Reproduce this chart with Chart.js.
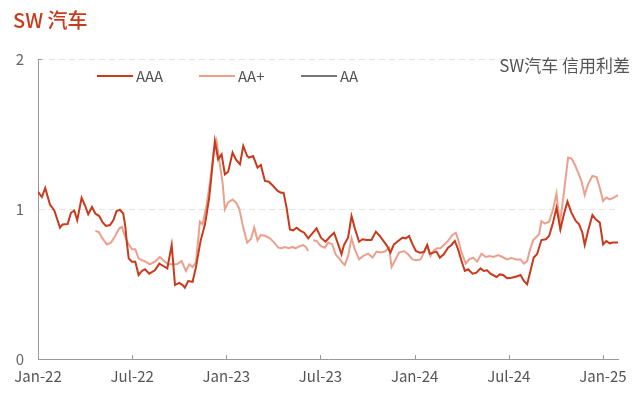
<!DOCTYPE html>
<html>
<head>
<meta charset="utf-8">
<script src="https://cdn.jsdelivr.net/npm/chart.js@4"></script>
<style>
  body { margin: 0; background: #fff; }
  canvas { display: block; }
</style>
</head>
<body>
<canvas id="myChart" width="640" height="395"></canvas>
<script>
// x values are months since Jan 2022
const xTickMonths = [0, 6, 12, 18, 24, 30, 36];
const xTickLabels = ["Jan-22", "Jul-22", "Jan-23", "Jul-23", "Jan-24", "Jul-24", "Jan-25"];
const yTicks = [0, 1, 2];

const aaaMonth = [0.00, 0.25, 0.46, 0.76, 1.04, 1.40, 1.57, 1.89, 2.10, 2.31, 2.50, 2.78, 3.01, 3.20, 3.44, 3.65, 3.90, 4.12, 4.33, 4.59,
  4.80, 5.01, 5.22, 5.43, 5.56, 5.65, 5.78, 5.99, 6.20, 6.41, 6.62, 6.82, 7.09, 7.45, 7.73, 7.98, 8.24, 8.52, 8.73, 9.00,
  9.22, 9.36, 9.57, 9.85, 10.06, 10.36, 10.64, 10.91, 11.27, 11.48, 11.70, 11.91, 12.12, 12.40, 12.61, 12.87, 13.08, 13.33, 13.44, 13.71,
  13.99, 14.20, 14.46, 14.71, 14.99, 15.27, 15.48, 15.65, 15.84, 16.05, 16.26, 16.48, 16.69, 16.96, 17.22, 17.43, 17.75, 18.03, 18.32, 18.60,
  18.87, 19.13, 19.34, 19.50, 19.76, 19.98, 20.19, 20.46, 20.68, 20.94, 21.25, 21.53, 21.78, 21.99, 22.25, 22.46, 22.68, 22.95, 23.23, 23.44,
  23.65, 23.87, 24.08, 24.33, 24.59, 24.80, 24.97, 25.18, 25.39, 25.61, 25.86, 26.13, 26.35, 26.56, 26.77, 26.99, 27.20, 27.41, 27.69, 27.94,
  28.20, 28.41, 28.62, 28.83, 29.22, 29.43, 29.64, 29.89, 30.17, 30.49, 30.75, 30.96, 31.17, 31.38, 31.59, 31.80, 32.08, 32.36, 32.57, 32.82,
  33.04, 33.29, 33.50, 33.74, 33.99, 34.27, 34.48, 34.69, 34.84, 35.05, 35.33, 35.54, 35.80, 36.01, 36.22, 36.43, 36.64, 36.96];
const aaaSpread = [1.115, 1.08, 1.14, 1.03, 0.99, 0.875, 0.897, 0.90, 0.975, 0.99, 0.925, 1.075, 1.02, 0.965, 1.013, 0.97, 0.953, 0.91, 0.887, 0.893,
  0.925, 0.987, 0.995, 0.97, 0.887, 0.787, 0.671, 0.649, 0.649, 0.56, 0.587, 0.598, 0.569, 0.591, 0.636, 0.62, 0.604, 0.76, 0.493, 0.507,
  0.493, 0.476, 0.52, 0.515, 0.609, 0.787, 0.898, 1.075, 1.453, 1.331, 1.364, 1.231, 1.249, 1.376, 1.331, 1.298, 1.42, 1.353, 1.342, 1.353,
  1.276, 1.293, 1.187, 1.182, 1.153, 1.12, 1.109, 1.109, 1.009, 0.864, 0.858, 0.875, 0.858, 0.842, 0.804, 0.831, 0.871, 0.809, 0.782, 0.815,
  0.842, 0.764, 0.698, 0.76, 0.809, 0.953, 0.871, 0.782, 0.798, 0.793, 0.793, 0.849, 0.82, 0.791, 0.753, 0.709, 0.764, 0.787, 0.809, 0.804,
  0.82, 0.764, 0.72, 0.709, 0.713, 0.76, 0.702, 0.709, 0.716, 0.676, 0.698, 0.742, 0.76, 0.787, 0.731, 0.653, 0.587, 0.598, 0.569, 0.576,
  0.604, 0.587, 0.591, 0.569, 0.547, 0.564, 0.56, 0.538, 0.542, 0.55, 0.56, 0.52, 0.498, 0.587, 0.676, 0.698, 0.793, 0.798, 0.82, 0.909,
  1.009, 0.864, 0.96, 1.049, 0.976, 0.92, 0.898, 0.842, 0.76, 0.853, 0.96, 0.931, 0.909, 0.764, 0.787, 0.771, 0.776, 0.776];

// null marks the break in the AA+ series
const aapMonth = [3.65, 3.87, 4.08, 4.38, 4.65, 4.92, 5.18, 5.35, 5.50, 5.71, 5.99, 6.20, 6.41, 6.62, 6.83, 7.13, 7.45, 7.77, 8.03, 8.30,
  8.62, 8.87, 9.15, 9.43, 9.64, 9.85, 10.06, 10.32, 10.49, 10.75, 11.00, 11.21, 11.38, 11.59, 11.76, 11.91, 12.12, 12.40, 12.61, 12.82,
  13.08, 13.33, 13.57, 13.78, 13.99, 14.20, 14.50, 14.78, 15.05, 15.31, 15.52, 15.73, 15.99, 16.20, 16.41, 16.69, 16.90, 17.07, 17.22, 17.38,
  17.54, 17.75, 18.03, 18.28, 18.49, 18.75, 18.96, 19.24, 19.45, 19.55, 19.76, 19.98, 20.19, 20.46, 20.72, 21.04, 21.32, 21.57, 21.83, 22.10,
  22.38, 22.53, 22.74, 23.01, 23.31, 23.59, 23.87, 24.12, 24.38, 24.59, 24.80, 25.01, 25.22, 25.43, 25.65, 25.86, 26.13, 26.41, 26.62, 26.77,
  26.99, 27.26, 27.47, 27.73, 27.98, 28.26, 28.54, 28.79, 29.04, 29.32, 29.60, 29.89, 30.17, 30.49, 30.75, 30.96, 31.17, 31.34, 31.55, 31.76,
  31.93, 32.08, 32.29, 32.57, 32.82, 33.04, 33.25, 33.50, 33.78, 33.99, 34.20, 34.42, 34.63, 34.84, 35.05, 35.33, 35.59, 35.80, 36.01, 36.22,
  36.43, 36.69, 36.96];
const aapSpread = [0.853, 0.847, 0.809, 0.764, 0.776, 0.82, 0.871, 0.88, 0.831, 0.776, 0.731, 0.731, 0.671, 0.658, 0.651, 0.631, 0.649, 0.68, 0.653, 0.631,
  0.631, 0.633, 0.653, 0.587, 0.631, 0.613, 0.642, 0.915, 0.898, 1.031, 1.209, 1.387, 1.453, 1.298, 1.176, 0.998, 1.044, 1.064, 1.044, 1.004,
  0.876, 0.776, 0.80, 0.876, 0.791, 0.827, 0.82, 0.804, 0.776, 0.742, 0.738, 0.747, 0.738, 0.747, 0.738, 0.753, 0.76, 0.747, 0.72, null,
  0.791, 0.787, 0.753, 0.742, 0.776, 0.765, 0.698, 0.664, 0.636, 0.627, 0.687, 0.804, 0.731, 0.664, 0.687, 0.702, 0.676, 0.716, 0.71, 0.716,
  0.742, 0.613, 0.653, 0.709, 0.72, 0.698, 0.664, 0.658, 0.664, 0.709, 0.76, 0.687, 0.724, 0.738, 0.738, 0.76, 0.787, 0.827, 0.842, 0.798,
  0.709, 0.636, 0.664, 0.676, 0.649, 0.702, 0.68, 0.687, 0.68, 0.693, 0.68, 0.664, 0.673, 0.664, 0.664, 0.636, 0.653, 0.724, 0.791, 0.813,
  0.831, 0.92, 0.902, 0.915, 0.998, 1.102, 0.898, 1.098, 1.342, 1.338, 1.298, 1.242, 1.187, 1.093, 1.164, 1.22, 1.213, 1.142, 1.053, 1.076,
  1.064, 1.076, 1.093];

const aaMonth = [];
const aaSpread = [];

const toPoints = (xs, ys) => xs.map((x, i) => ({ x: x, y: ys[i] }));

const FONT = "'Noto Sans CJK SC', 'Noto Sans', sans-serif";

// title, subtitle, legend inside the plot and inward tick marks
const decorations = {
  id: "decorations",
  afterDraw(chart) {
    const ctx = chart.ctx;
    const area = chart.chartArea;
    const xs = chart.scales.x;
    ctx.save();

    ctx.fillStyle = "#c9391b";
    ctx.font = "500 20px " + FONT;
    ctx.textBaseline = "middle";
    ctx.textAlign = "left";
    ctx.fillText("SW 汽车", 13, 20);

    ctx.fillStyle = "#555";
    ctx.font = "17px " + FONT;
    ctx.textAlign = "right";
    ctx.fillText("SW汽车 信用利差", 630, 66);

    // legend
    ctx.font = "15px " + FONT;
    ctx.textAlign = "left";
    let lx = area.left + 59;
    const ly = area.top + 17;
    chart.data.datasets.forEach(ds => {
      ctx.strokeStyle = ds.borderColor;
      ctx.lineWidth = 2;
      ctx.beginPath();
      ctx.moveTo(lx, ly);
      ctx.lineTo(lx + 36, ly);
      ctx.stroke();
      ctx.fillStyle = "#555";
      ctx.fillText(ds.label, lx + 39, ly);
      lx += 102;
    });

    // inward ticks
    ctx.strokeStyle = "#999";
    ctx.lineWidth = 1;
    xs.ticks.forEach(t => {
      if (t.value === 0) return;
      const px = Math.round(xs.getPixelForValue(t.value)) + 0.5;
      ctx.beginPath();
      ctx.moveTo(px, area.bottom);
      ctx.lineTo(px, area.bottom - 4);
      ctx.stroke();
    });
    ctx.beginPath();
    ctx.moveTo(area.left, area.top + 0.5);
    ctx.lineTo(area.left + 4, area.top + 0.5);
    ctx.stroke();
    ctx.restore();
  }
};

new Chart(document.getElementById("myChart").getContext("2d"), {
  type: "line",
  data: {
    datasets: [
      { label: "AAA", data: toPoints(aaaMonth, aaaSpread), borderColor: "#c9391b", backgroundColor: "#c9391b", borderWidth: 2 },
      { label: "AA+", data: toPoints(aapMonth, aapSpread), borderColor: "#eba08e", backgroundColor: "#eba08e", borderWidth: 2 },
      { label: "AA", data: toPoints(aaMonth, aaSpread), borderColor: "#777777", backgroundColor: "#777777", borderWidth: 2 }
    ]
  },
  options: {
    responsive: false,
    animation: false,
    layout: { padding: { top: 59, right: 22, left: 0, bottom: 0 } },
    elements: { point: { radius: 0 }, line: { tension: 0 } },
    plugins: { legend: { display: false }, tooltip: { enabled: false } },
    scales: {
      x: {
        type: "linear",
        min: 0,
        max: aaaMonth[aaaMonth.length - 1],
        afterBuildTicks: s => { s.ticks = xTickMonths.map(v => ({ value: v })); },
        afterFit: s => { s.height = 36; },
        grid: { drawOnChartArea: false, drawTicks: false },
        border: { color: "#999", width: 1 },
        ticks: {
          padding: 8,
          color: "#555",
          font: { family: FONT, size: 15 },
          maxRotation: 0,
          autoSkip: false,
          callback: v => xTickLabels[xTickMonths.indexOf(v)]
        }
      },
      y: {
        min: 0,
        max: 2,
        afterBuildTicks: s => { s.ticks = yTicks.map(v => ({ value: v })); },
        afterFit: s => { s.width = 38; },
        grid: {
          drawTicks: false,
          color: c => c.tick && c.tick.value === 0 ? "rgba(0,0,0,0)" : "#e3e3e3"
        },
        border: { color: "#999", width: 1, dash: [6, 4] },
        ticks: {
          padding: 14,
          color: "#666",
          font: { family: FONT, size: 15 }
        }
      }
    }
  },
  plugins: [decorations]
});
</script>
</body>
</html>
